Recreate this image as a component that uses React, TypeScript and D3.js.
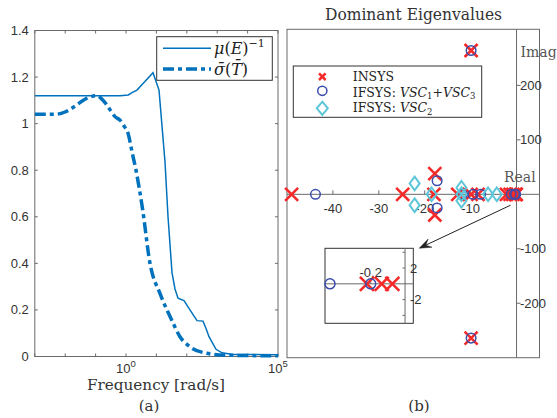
import React from 'react';
import * as d3 from 'd3';

// ---------- Left panel data (a) ----------
const muFreq = [0.001, 0.635, 1.19, 1.57, 2.3, 3.7, 7.73, 12.2, 19.2, 24.1, 32.6, 40.9, 51.4, 80.9, 127, 217, 341, 429, 537, 914, 1439, 3311, 100000];
const muVal = [1.12, 1.12, 1.123, 1.133, 1.144, 1.173, 1.219, 1.144, 0.835, 0.6, 0.36, 0.29, 0.25, 0.24, 0.2, 0.154, 0.152, 0.12, 0.085, 0.031, 0.016, 0.009, 0.008];
const sigFreq = [0.001, 0.00461, 0.00984, 0.021, 0.0448, 0.1086, 0.2037, 0.298, 0.435, 0.635, 0.859, 1.19, 1.57, 2.13, 3.49, 6.15, 13.1, 31.8, 59.7, 127, 452, 1807, 100000];
const sigVal = [1.04, 1.04, 1.05, 1.075, 1.105, 1.12, 1.09, 1.06, 1.03, 1.015, 0.99, 0.955, 0.88, 0.8, 0.635, 0.4, 0.271, 0.157, 0.085, 0.042, 0.014, 0.006, 0.003];
const leftYTicks = [0, 0.2, 0.4, 0.6, 0.8, 1, 1.2, 1.4];
const leftYTickLabels = ['0', '0.2', '0.4', '0.6', '0.8', '1', '1.2', '1.4'];
const leftXTicks = [0.001, 0.01, 0.1, 1, 10, 100, 1000, 10000, 100000];
const leftXLabelVals = [1, 100000];
const leftXLabelExp = ['0', '5'];

// ---------- Right panel data (b) ----------
const insysRe = [-49, -24.8, -17.8, -17.8, -18, -12.8, -9.9, -8.4, -2.2, -1.4, -0.8, -0.22, -0.14, -0.07, -9.9, -9.9];
const insysIm = [0, 0, 38, -38, 0, 0, 0, 0, 0, 0, 0, 0, 0, 0, 264, -264];
const ifsysRe = [-43.8, -17.3, -17.3, -11.8, -9.5, -7.8, -1.15, -0.44, -0.2, -9.9, -9.9];
const ifsysIm = [0, 25, -25, 0, 0, 0, 0, 0, 0, 264, -264];
const vscRe = [-22.2, -22.2, -18.5, -12, -12, -12, -6.2, -4.3];
const vscIm = [20, -20, 0, 12, 0, -12, 0, 0];
const realTicks = [-40, -30, -20, -10];
const imagTicks = [-200, -100, 100, 200];
const insetInsysRe = [-0.222, -0.136, -0.074];
const insetIfsysRe = [-0.437, -0.2];
const insetYTicks = [-4, -2, 2, 4];
const insetYLabels = [-2, 2];
const insetXLabels = [-0.2];
const arrowFrom = [-1.3, -20];
const arrowTo = [-21.2, -99];

const SANS = 'Liberation Sans, Arial, sans-serif';
const SERIF = 'DejaVu Serif, serif';
const LBLUE = '#0072BD';
const RED = '#f52a2a';
const BLUE = '#3b4cab';
const CYAN = '#5cc6d8';
const AX = '#6a6a6a';
const TXT = '#333333';

function XMark({ x, y, a = 6.5, w = 2.6 }: { x: number; y: number; a?: number; w?: number }) {
  return (
    <path d={`M${x - a},${y - a}L${x + a},${y + a}M${x - a},${y + a}L${x + a},${y - a}`} stroke={RED} strokeWidth={w} fill="none" />
  );
}
function OMark({ x, y, r = 4.8 }: { x: number; y: number; r?: number }) {
  return <circle cx={x} cy={y} r={r} stroke={BLUE} strokeWidth={1.5} fill="none" />;
}
function DMark({ x, y, hw = 5, hh = 6.8 }: { x: number; y: number; hw?: number; hh?: number }) {
  return <path d={`M${x},${y - hh}L${x + hw},${y}L${x},${y + hh}L${x - hw},${y}Z`} stroke={CYAN} strokeWidth={2} fill="none" />;
}

export default function App() {
  // left scales
  const xL = d3.scaleLog().domain([1e-3, 1e5]).range([34.8, 278]);
  const yL = d3.scaleLinear().domain([0, 1.4]).range([356.5, 30.5]);
  const [l0, l1] = xL.range();
  const [b0, t0] = yL.range();
  const muPath = d3.line<number>().x((_, i) => xL(muFreq[i])).y((d) => yL(d))(muVal) || '';
  const sigPath = d3.line<number>().x((_, i) => xL(sigFreq[i])).y((d) => yL(d)).curve(d3.curveMonotoneX)(sigVal) || '';

  // right scales
  const xR = d3.scaleLinear().domain([-50, 5]).range([287, 539.5]);
  const yR = d3.scaleLinear().domain([-300, 303]).range([357.7, 29.3]);
  const [r0, r1] = xR.range();
  const [rb, rt] = yR.range();

  // inset scales
  const xI = d3.scaleLinear().domain([-0.466, 0.048]).range([325, 413.3]);
  const yI = d3.scaleLinear().domain([-5, 4.5]).range([323.3, 248.3]);
  const [i0, i1] = xI.range();
  const [ib, it] = yI.range();

  // arrow
  const ax1 = xR(arrowFrom[0]), ay1 = yR(arrowFrom[1]);
  const ax2 = xR(arrowTo[0]), ay2 = yR(arrowTo[1]);
  const dx = ax2 - ax1, dy = ay2 - ay1;
  const len = Math.hypot(dx, dy);
  const ux = dx / len, uy = dy / len;
  const px = -uy, py = ux;
  const hl = 12, hwid = 4.5;
  const headPath = `M${ax2},${ay2}L${ax2 - ux * hl + px * hwid},${ay2 - uy * hl + py * hwid}L${ax2 - ux * hl * 0.6},${ay2 - uy * hl * 0.6}L${ax2 - ux * hl - px * hwid},${ay2 - uy * hl - py * hwid}Z`;

  return (
    <svg width={557} height={418} style={{ display: 'block', position: 'absolute', left: 0, top: 0 }}>
      <rect x={0} y={0} width={557} height={418} fill="#fff" />
      <defs>
        <clipPath id="clipL">
          <rect x={l0} y={t0} width={l1 - l0} height={b0 - t0 + 2} />
        </clipPath>
      </defs>

      {/* ---------- Left panel ---------- */}
      <rect x={l0} y={t0} width={l1 - l0} height={b0 - t0} fill="none" stroke={AX} strokeWidth={1} />
      {leftYTicks.map((v, i) => (
        <g key={'ly' + i}>
          <line x1={l0} x2={l0 + 3} y1={yL(v)} y2={yL(v)} stroke={AX} />
          <line x1={l1} x2={l1 - 3} y1={yL(v)} y2={yL(v)} stroke={AX} />
          <text x={l0 - 6} y={yL(v) + 4.5} textAnchor="end" fontFamily={SANS} fontSize={13} fill={TXT}>{leftYTickLabels[i]}</text>
        </g>
      ))}
      {leftXTicks.map((v, i) => (
        <g key={'lx' + i}>
          <line x1={xL(v)} x2={xL(v)} y1={b0} y2={b0 - 3} stroke={AX} />
          <line x1={xL(v)} x2={xL(v)} y1={t0} y2={t0 + 3} stroke={AX} />
        </g>
      ))}
      {leftXLabelVals.map((v, i) => (
        <text key={'lxl' + i} x={xL(v)} y={372.5} textAnchor="middle" fontFamily={SANS} fontSize={13} fill={TXT}>
          10<tspan dy={-6} fontSize={9.5}>{leftXLabelExp[i]}</tspan>
        </text>
      ))}
      <g clipPath="url(#clipL)">
        <path d={muPath} fill="none" stroke={LBLUE} strokeWidth={1.5} />
        <path d={sigPath} fill="none" stroke={LBLUE} strokeWidth={3.5} strokeDasharray="11,4,4,4" />
      </g>
      {/* legend left */}
      <rect x={156.7} y={36.7} width={115.6} height={43.6} fill="#fff" stroke="#333" strokeWidth={1} />
      <line x1={163} x2={211} y1={48.3} y2={48.3} stroke={LBLUE} strokeWidth={1.5} />
      <line x1={163} x2={211} y1={69} y2={69} stroke={LBLUE} strokeWidth={3.5} strokeDasharray="11,4,4,4" />
      <text x={214} y={53.5} fontFamily={SERIF} fontSize={16} fill="#222">
        <tspan fontStyle="italic">μ</tspan>(<tspan fontStyle="italic">E</tspan>)<tspan dy={-6.5} fontSize={11}>−1</tspan>
      </text>
      <text x={214} y={74.5} fontFamily={SERIF} fontSize={16} fill="#222">
        <tspan fontStyle="italic">σ̄</tspan>(<tspan fontStyle="italic">T̄</tspan>)
      </text>
      <text x={156} y={390} textAnchor="middle" fontFamily={SERIF} fontSize={14} textLength={138} lengthAdjust="spacingAndGlyphs" fill="#333">Frequency [rad/s]</text>
      <text x={149} y={411} textAnchor="middle" fontFamily={SERIF} fontSize={15} fill="#333">(a)</text>

      {/* ---------- Right panel ---------- */}
      <text x={413.5} y={20} textAnchor="middle" fontFamily={SERIF} fontSize={16} textLength={177} lengthAdjust="spacingAndGlyphs" fill="#333">Dominant Eigenvalues</text>
      <rect x={r0} y={rt} width={r1 - r0} height={rb - rt} fill="none" stroke={AX} strokeWidth={1} />
      <line x1={r0} x2={r1} y1={yR(0)} y2={yR(0)} stroke={AX} strokeWidth={1} />
      <line x1={xR(0)} x2={xR(0)} y1={rt} y2={rb} stroke={AX} strokeWidth={1} />
      {realTicks.map((v, i) => (
        <g key={'rt' + i}>
          <line x1={xR(v)} x2={xR(v)} y1={yR(0)} y2={yR(0) - 4} stroke={AX} />
          <text x={xR(v)} y={213} textAnchor="middle" fontFamily={SANS} fontSize={13} fill={TXT}>{v}</text>
        </g>
      ))}
      {imagTicks.map((v, i) => (
        <g key={'it' + i}>
          <line x1={xR(0)} x2={xR(0) + 4} y1={yR(v)} y2={yR(v)} stroke={AX} />
          <text x={520} y={yR(v) + 4.5} fontFamily={SANS} fontSize={13} fill={TXT}>{v}</text>
        </g>
      ))}
      <text x={520.5} y={57} fontFamily={SERIF} fontSize={14} fill="#555">Imag</text>
      <text x={504} y={182} fontFamily={SERIF} fontSize={14} fill="#555">Real</text>

      {/* markers */}
      {insysRe.map((v, i) => <XMark key={'x' + i} x={xR(v)} y={yR(insysIm[i])} />)}
      {ifsysRe.map((v, i) => <OMark key={'o' + i} x={xR(v)} y={yR(ifsysIm[i])} />)}
      {vscRe.map((v, i) => <DMark key={'d' + i} x={xR(v)} y={yR(vscIm[i])} />)}

      {/* arrow */}
      <line x1={ax1} y1={ay1} x2={ax2 - ux * hl * 0.6} y2={ay2 - uy * hl * 0.6} stroke="#222" strokeWidth={1} />
      <path d={headPath} fill="#222" stroke="#222" strokeWidth={0.5} />

      {/* inset */}
      <rect x={i0} y={it} width={i1 - i0} height={ib - it} fill="#fff" stroke="#333" strokeWidth={1} />
      <line x1={i0} x2={i1} y1={yI(0)} y2={yI(0)} stroke={AX} />
      <line x1={xI(0)} x2={xI(0)} y1={it} y2={ib} stroke={AX} />
      {insetYTicks.map((v, i) => (
        <line key={'iyt' + i} x1={xI(0) - 2.5} x2={xI(0)} y1={yI(v)} y2={yI(v)} stroke={AX} />
      ))}
      {insetYLabels.map((v, i) => (
        <text key={'iyl' + i} x={410} y={yI(v) + 4.5} fontFamily={SANS} fontSize={13} fill={TXT}>{v}</text>
      ))}
      {insetXLabels.map((v, i) => (
        <g key={'ixl' + i}>
          <line x1={xI(v)} x2={xI(v)} y1={yI(0)} y2={yI(0) - 3} stroke={AX} />
          <text x={xI(v)} y={277} textAnchor="middle" fontFamily={SANS} fontSize={13} fill={TXT}>{v}</text>
        </g>
      ))}
      {insetInsysRe.map((v, i) => <XMark key={'ix' + i} x={xI(v)} y={yI(0)} a={7} />)}
      {insetIfsysRe.map((v, i) => <OMark key={'io' + i} x={xI(v)} y={yI(0)} r={5} />)}

      {/* legend right */}
      <rect x={293.3} y={66} width={188.4} height={51.3} fill="#fff" stroke="#333" strokeWidth={1} />
      <XMark x={322.3} y={76.7} a={3.3} w={2.5} />
      <OMark x={322.3} y={90.8} r={4.6} />
      <DMark x={322.3} y={108.3} hw={5.5} hh={6.6} />
      <text x={352.7} y={81} fontFamily={SERIF} fontSize={12.5} fill="#222">INSYS</text>
      <text x={352.7} y={96.5} fontFamily={SERIF} fontSize={12.5} fill="#222">
        IFSYS: <tspan fontStyle="italic">VSC</tspan><tspan dy={2.5} fontSize={8.5}>1</tspan><tspan dy={-2.5}>+</tspan><tspan fontStyle="italic">VSC</tspan><tspan dy={2.5} fontSize={8.5}>3</tspan>
      </text>
      <text x={352.7} y={112.3} fontFamily={SERIF} fontSize={12.5} fill="#222">
        IFSYS: <tspan fontStyle="italic">VSC</tspan><tspan dy={2.5} fontSize={8.5}>2</tspan>
      </text>
      <text x={419} y={411} textAnchor="middle" fontFamily={SERIF} fontSize={15} fill="#333">(b)</text>
    </svg>
  );
}
